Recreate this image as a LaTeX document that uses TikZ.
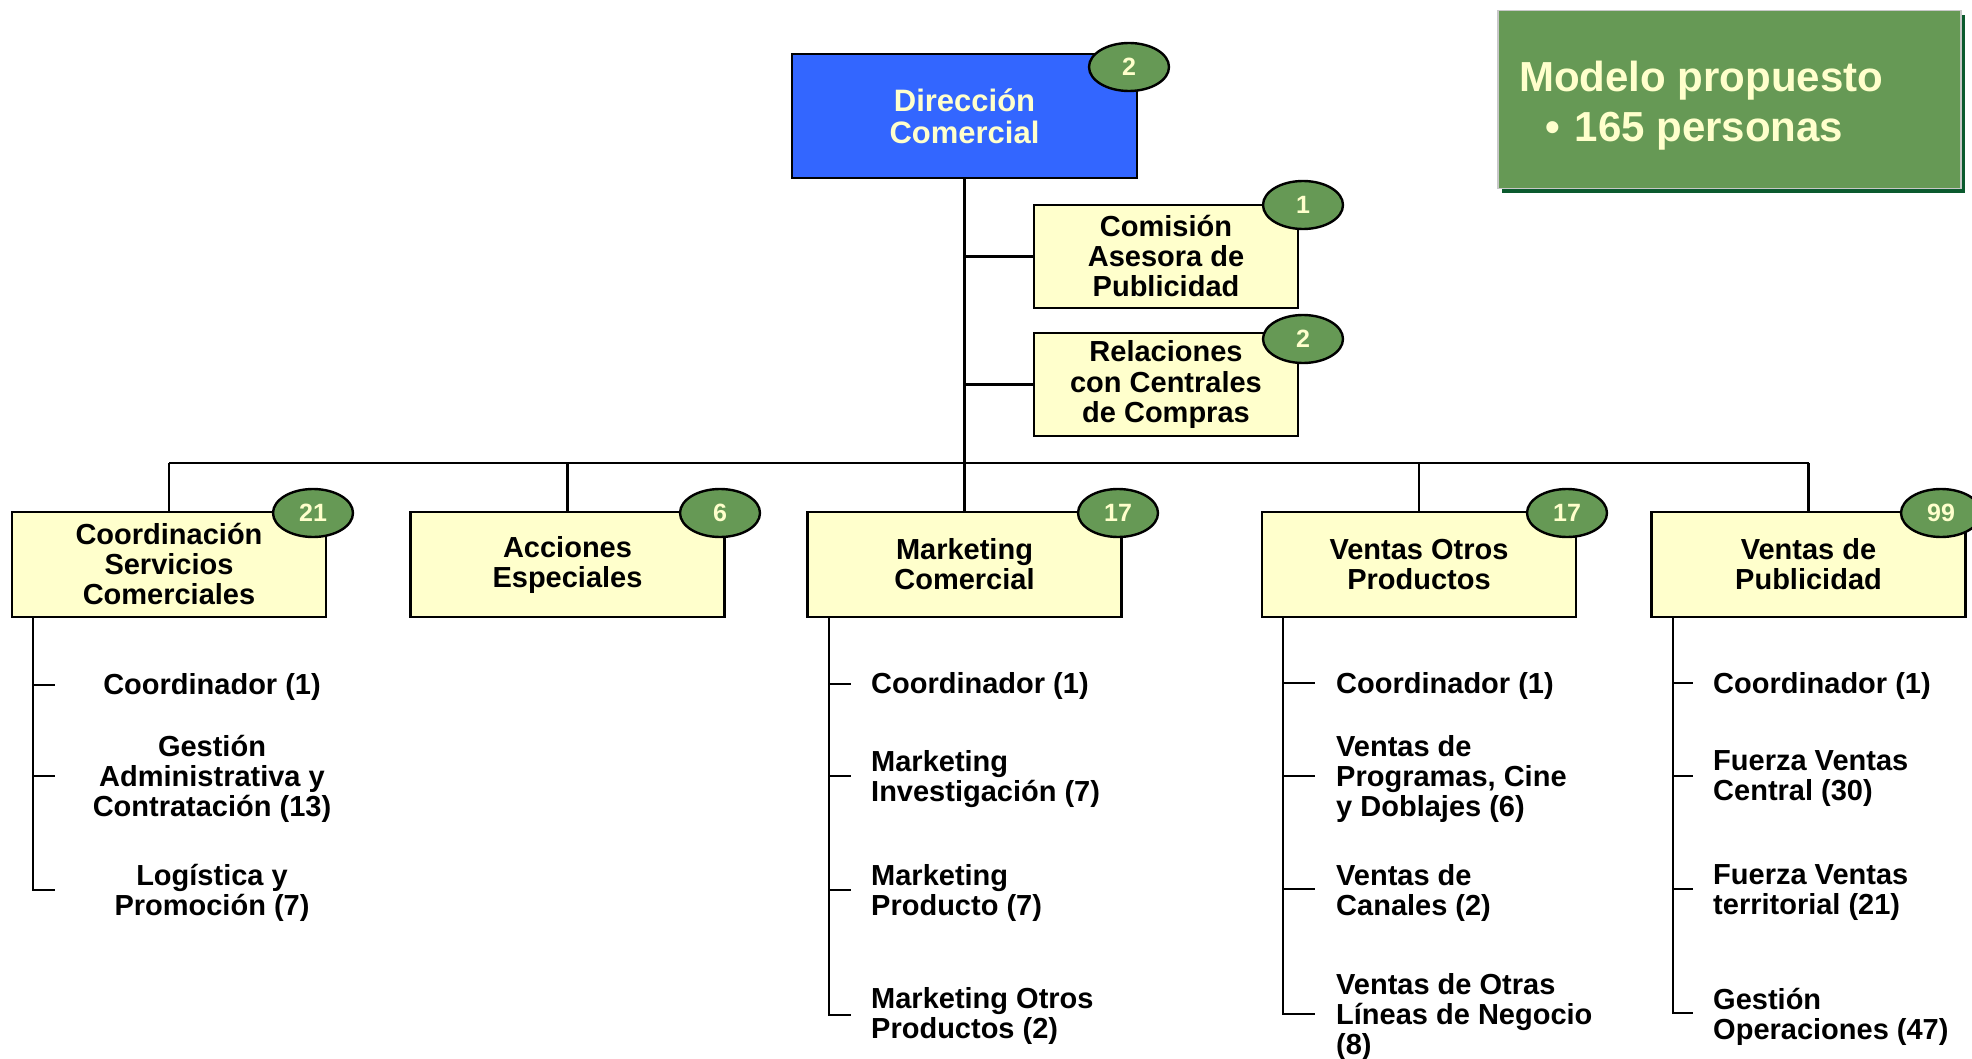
\documentclass[tikz,border=0pt]{standalone}
\usepackage{fontspec}
\setmainfont{Liberation Sans}
\usetikzlibrary{shapes.geometric}
\definecolor{yfill}{HTML}{FFFFCC}
\definecolor{bfill}{HTML}{3366FF}
\definecolor{gfill}{HTML}{669955}
\definecolor{gshadow}{HTML}{0B5A2E}
\definecolor{ltext}{HTML}{FFFFCC}
\definecolor{gborder}{HTML}{C8C8C8}
\begin{document}
\begin{tikzpicture}[x=1pt,y=-1pt,
  unitbox/.style={draw=black, line width=2.6pt, fill=yfill, minimum width=314, minimum height=105,
    inner sep=0pt, align=center, font=\fontsize{29}{30}\selectfont\bfseries},
  staffbox/.style={unitbox, minimum width=264, minimum height=103},
  headbox/.style={draw=black, line width=2.6pt, fill=bfill, minimum width=345, minimum height=124,
    inner sep=0pt, align=center, text=ltext, font=\fontsize{31}{32}\selectfont\bfseries},
  badge/.style={ellipse, draw=black, line width=2.4pt, fill=gfill, minimum width=80, minimum height=48,
    inner sep=0pt, text=ltext, font=\fontsize{25}{25}\selectfont\bfseries},
  link/.style={line width=2.4pt, draw=black},
  thinlink/.style={line width=1.5pt, draw=black},
  itemc/.style={inner sep=0pt, align=center, font=\fontsize{29}{30}\selectfont\bfseries},
  iteml/.style={inner sep=0pt, align=left, anchor=west, font=\fontsize{29}{30}\selectfont\bfseries},
]
\useasboundingbox (0,0) rectangle (1972,1059);

% ---- summary box
\fill[gshadow] (1502,15) rectangle (1965,193);
\node[draw=gborder, line width=1.5pt, fill=gfill, minimum width=463, minimum height=178, inner sep=0pt,
  anchor=north west] (modelo) at (1497,10) {};
\node[anchor=west, inner sep=0pt, align=left, text=ltext,
  font=\fontsize{42}{50}\selectfont\bfseries] (modelotxt) at (1519,106)
  {Modelo propuesto\\\hspace*{26pt}•\hspace{15pt}165 personas};

% ---- top
\node[headbox] (dc) at (964.5,116) {Dirección\\Comercial};
\node[badge] (bdc) at (1129,67) {2};

\node[staffbox] (cap) at (1166,256.5) {Comisión\\Asesora de\\Publicidad};
\node[badge] (bcap) at (1303,205) {1};
\node[staffbox] (rcc) at (1166,384.5) {Relaciones\\con Centrales\\de Compras};
\node[badge] (brcc) at (1303,339) {2};

\coordinate (bus) at (964.5,463);

% ---- units
\node[unitbox] (csc) at (169,564.5) {Coordinación\\Servicios\\Comerciales};
\node[badge] (bcsc) at (313,513) {21};
\node[unitbox] (ae) at (567.5,564.5) {Acciones\\Especiales};
\node[badge] (bae) at (720,513) {6};
\node[unitbox] (mc) at (964.5,564.5) {Marketing\\Comercial};
\node[badge] (bmc) at (1118,513) {17};
\node[unitbox] (vop) at (1419,564.5) {Ventas Otros\\Productos};
\node[badge] (bvop) at (1567,513) {17};
\node[unitbox] (vp) at (1808.5,564.5) {Ventas de\\Publicidad};
\node[badge] (bvp) at (1941,513) {99};

% ---- connectors
\draw[link] (dc.south) -- (bus);
\draw[link] (dc.south |- cap.west) -- (cap.west);
\draw[link] (dc.south |- rcc.west) -- (rcc.west);
\draw[link] (csc.north |- bus) -- (vp.north |- bus);
\foreach \n in {csc,ae,mc,vop,vp} \draw[link] (\n.north |- bus) -- (\n.north);

% ---- column 1 (Coordinación Servicios Comerciales)
\coordinate (s1t) at (33,617);
\coordinate (s1m) at (33,660);
\coordinate (t11) at (55,685);
\coordinate (t12) at (55,776);
\coordinate (t13) at (55,890);
\draw[thinlink] (s1t) -- (s1m);
\draw[link] (s1m) -- (s1m |- t13) -- (t13);
\draw[link] (s1m |- t11) -- (t11);
\draw[link] (s1m |- t12) -- (t12);
\node[itemc] (i11) at (212,687) {Coordinador (1)};
\node[itemc] (i12) at (212,779) {Gestión\\Administrativa y\\Contratación (13)};
\node[itemc] (i13) at (212,893) {Logística y\\Promoción (7)};

% ---- column 3 (Marketing Comercial)
\coordinate (s3t) at (829,617);
\coordinate (s3m) at (829,660);
\coordinate (t31) at (851,684);
\coordinate (t32) at (851,776);
\coordinate (t33) at (851,890);
\coordinate (t34) at (851,1015);
\draw[thinlink] (s3t) -- (s3m);
\draw[link] (s3m) -- (s3m |- t34) -- (t34);
\draw[link] (s3m |- t31) -- (t31);
\draw[link] (s3m |- t32) -- (t32);
\draw[link] (s3m |- t33) -- (t33);
\node[iteml] (i31) at (871,686) {Coordinador (1)};
\node[iteml] (i32) at (871,779) {Marketing\\Investigación (7)};
\node[iteml] (i33) at (871,893) {Marketing\\Producto (7)};
\node[iteml] (i34) at (871,1016) {Marketing Otros\\Productos (2)};

% ---- column 4 (Ventas Otros Productos)
\coordinate (s4t) at (1283,617);
\coordinate (s4m) at (1283,660);
\coordinate (t41) at (1315,683);
\coordinate (t42) at (1315,776);
\coordinate (t43) at (1315,889);
\coordinate (t44) at (1315,1014);
\draw[thinlink] (s4t) -- (s4m);
\draw[link] (s4m) -- (s4m |- t44) -- (t44);
\draw[link] (s4m |- t41) -- (t41);
\draw[link] (s4m |- t42) -- (t42);
\draw[link] (s4m |- t43) -- (t43);
\node[iteml] (i41) at (1336,686) {Coordinador (1)};
\node[iteml] (i42) at (1336,779) {Ventas de\\Programas, Cine\\y Doblajes (6)};
\node[iteml] (i43) at (1336,893) {Ventas de\\Canales (2)};
\node[iteml] (i44) at (1336,1017) {Ventas de Otras\\Líneas de Negocio\\(8)};

% ---- column 5 (Ventas de Publicidad)
\coordinate (s5t) at (1673,617);
\coordinate (s5m) at (1673,660);
\coordinate (t51) at (1693,683);
\coordinate (t52) at (1693,776);
\coordinate (t53) at (1693,889);
\coordinate (t54) at (1693,1013);
\draw[thinlink] (s5t) -- (s5m);
\draw[link] (s5m) -- (s5m |- t54) -- (t54);
\draw[link] (s5m |- t51) -- (t51);
\draw[link] (s5m |- t52) -- (t52);
\draw[link] (s5m |- t53) -- (t53);
\node[iteml] (i51) at (1713,686) {Coordinador (1)};
\node[iteml] (i52) at (1713,779) {Fuerza Ventas\\Central (30)};
\node[iteml] (i53) at (1713,893) {Fuerza Ventas\\territorial (21)};
\node[iteml] (i54) at (1713,1017) {Gestión\\Operaciones (47)};
\end{tikzpicture}
\end{document}
